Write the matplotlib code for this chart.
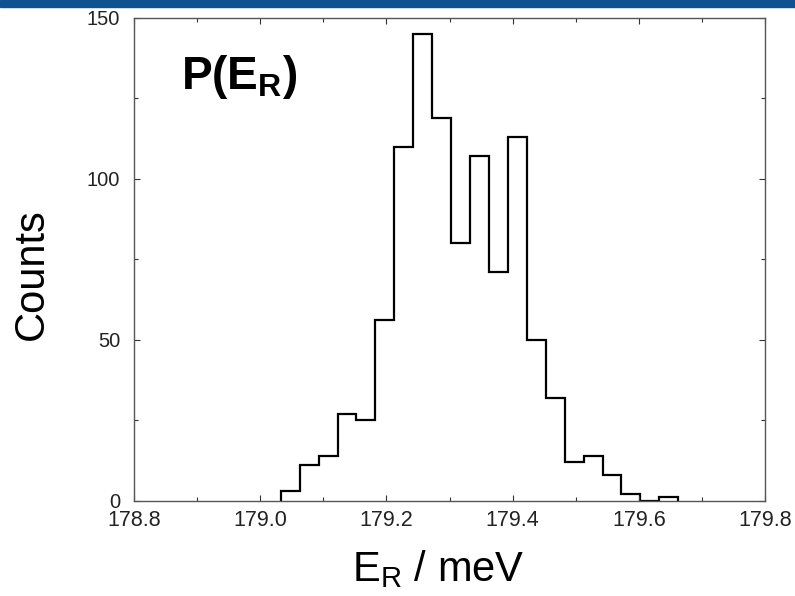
import matplotlib.pyplot as plt
import numpy as np
from matplotlib.patches import Rectangle
from matplotlib.ticker import MultipleLocator

plt.rcParams['font.family'] = 'Liberation Sans'
plt.rcParams['mathtext.fontset'] = 'custom'
plt.rcParams['mathtext.rm'] = 'Liberation Sans'
plt.rcParams['mathtext.bf'] = 'Liberation Sans:bold'

## Histogram data
bin_start = 179.0325
bin_width = 0.03
counts = [3, 11, 14, 27, 25, 56, 110, 145, 119, 80, 107, 71, 113,
          50, 32, 12, 14, 8, 2, 0, 1]
edges = bin_start + bin_width*np.arange(len(counts) + 1)

fig = plt.figure(figsize=(7.95, 5.96), dpi=100)
ax = fig.add_axes([0.1686, 0.160, 0.7937, 0.8098])

# slide header bar
fig.add_artist(Rectangle((0, 1 - 7/596), 1, 7/596, transform=fig.transFigure,
                         color='#10528F', zorder=0))

ax.stairs(counts, edges, color='black', lw=1.6)

ax.set_xlim(178.8, 179.8)
ax.set_ylim(0, 150)
ax.xaxis.set_major_locator(MultipleLocator(0.2))
ax.xaxis.set_minor_locator(MultipleLocator(0.1))
ax.yaxis.set_major_locator(MultipleLocator(50))
ax.yaxis.set_minor_locator(MultipleLocator(25))
ax.set_xticks(np.arange(178.8, 179.81, 0.2))
ax.set_xticklabels(["178.8", "179.0", "179.2", "179.4", "179.6", "179.8"])

for s in ax.spines.values():
    s.set_color('#555555')
    s.set_linewidth(1.0)
ax.tick_params(which='both', direction='in', top=True, right=True, color='#333333',
               labelcolor='#222222')
ax.tick_params(which='major', length=4.5, width=0.8)
ax.tick_params(which='minor', length=2.7, width=0.8)
ax.tick_params(axis='x', labelsize=15.5, pad=7)
ax.tick_params(axis='y', labelsize=14.5, pad=10)

ax.set_ylabel("Counts", fontsize=30, labelpad=25)
ax.yaxis.label.set_y(0.469)
ax.set_xlabel(r"E$_\mathrm{R}$ / meV", fontsize=30, labelpad=12)
ax.xaxis.label.set_x(0.482)

ax.text(0.074, 0.852, r"P(E$_\mathbf{R}$)", transform=ax.transAxes,
        fontsize=33, fontweight='bold', va='baseline')

fig.savefig("out.png", dpi=100)
